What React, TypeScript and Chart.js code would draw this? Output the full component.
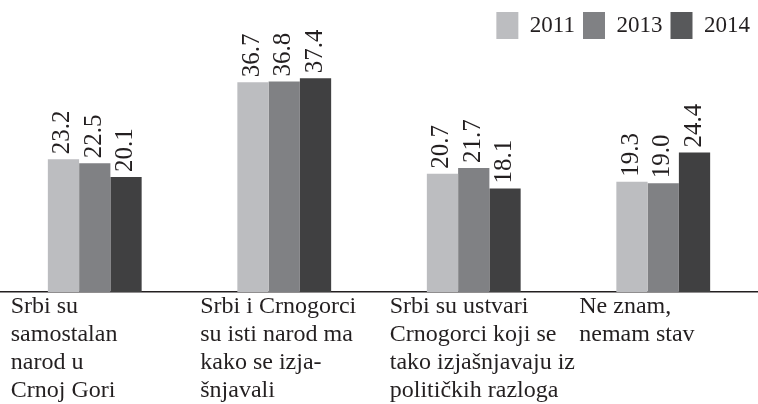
import React, { useEffect, useRef } from "react";
import Chart from "chart.js/auto";

const categories: string[][] = [
  ["Srbi su", "samostalan", "narod u", "Crnoj Gori"],
  ["Srbi i Crnogorci", "su isti narod ma", "kako se izja-", "šnjavali"],
  ["Srbi su ustvari", "Crnogorci koji se", "tako izjašnjavaju iz", "političkih razloga"],
  ["Ne znam,", "nemam stav"],
];
const years = ["2011", "2013", "2014"];
const values2011 = [23.2, 36.7, 20.7, 19.3];
const values2013 = [22.5, 36.8, 21.7, 19.0];
const values2014 = [20.1, 37.4, 18.1, 24.4];
const barColors = ["#bcbdc0", "#808184", "#404041"];
const legendColors = ["#bcbdc0", "#808184", "#58595b"];
const textColor = "#231f20";
const serif = "'Liberation Serif', 'Times New Roman', serif";

const valueLabels = {
  id: "valueLabels",
  afterDatasetsDraw(chart: any) {
    const ctx = chart.ctx;
    ctx.save();
    ctx.fillStyle = textColor;
    ctx.font = `25px ${serif}`;
    ctx.textAlign = "left";
    ctx.textBaseline = "alphabetic";
    chart.data.datasets.forEach((ds: any, di: number) => {
      const meta = chart.getDatasetMeta(di);
      meta.data.forEach((el: any, i: number) => {
        const v = ds.data[i] as number;
        ctx.save();
        ctx.translate(el.x + 6, el.y - 5);
        ctx.rotate(-Math.PI / 2);
        ctx.fillText(v.toFixed(1), 0, 0);
        ctx.restore();
      });
    });
    ctx.restore();
  },
};

export default function App() {
  const ref = useRef<HTMLCanvasElement | null>(null);
  useEffect(() => {
    document.body.style.margin = "0";
    if (!ref.current) return;
    const series = [values2011, values2013, values2014];
    const chart = new Chart(ref.current, {
      type: "bar",
      data: {
        labels: categories,
        datasets: years.map((y, i) => ({
          label: y,
          data: series[i],
          backgroundColor: barColors[i],
          borderWidth: 0,
          categoryPercentage: 0.495,
          barPercentage: 1,
        })),
      },
      options: {
        responsive: false,
        animation: false,
        devicePixelRatio: 1,
        layout: { padding: { top: 4, left: 0, right: 0, bottom: 0 } },
        plugins: {
          tooltip: { enabled: false },
          legend: {
            position: "top",
            align: "end",
            labels: {
              boxWidth: 22,
              boxHeight: 27,
              padding: 8,
              color: textColor,
              font: { family: serif, size: 23 },
              generateLabels(c: any) {
                const items = (Chart as any).defaults.plugins.legend.labels.generateLabels(c);
                return items.map((it: any, i: number) => ({
                  ...it,
                  fillStyle: legendColors[i],
                  strokeStyle: legendColors[i],
                  lineWidth: 0,
                }));
              },
            },
          },
        },
        scales: {
          x: {
            type: "category",
            offset: true,
            grid: { display: false, drawTicks: false },
            border: { display: true, color: textColor, width: 1.5 },
            ticks: {
              autoSkip: false,
              maxRotation: 0,
              minRotation: 0,
              align: "start",
              labelOffset: -84,
              padding: 1,
              color: textColor,
              font: { family: serif, size: 24, lineHeight: 1.1667 },
            },
            afterFit(scale: any) {
              scale.height = 112;
              scale.paddingLeft = 0;
              scale.paddingRight = 0;
            },
          },
          y: { display: false, min: 0, max: 42.5 },
        },
      },
      plugins: [valueLabels],
    } as any);
    return () => chart.destroy();
  }, []);
  return (
    <div style={{ width: 758, height: 404, background: "#fff" }}>
      <canvas ref={ref} width={758} height={404} style={{ display: "block" }} />
    </div>
  );
}
